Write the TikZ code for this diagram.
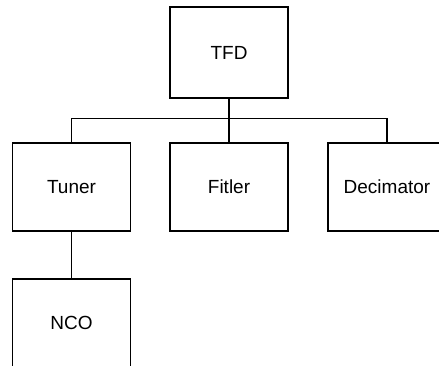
\documentclass[tikz,border=0pt]{standalone}
\usepackage{fontspec}
\setmainfont{Liberation Sans}
\usetikzlibrary{positioning}

\begin{document}
\begin{tikzpicture}[x=1pt,y=-1pt,
    every node/.style={font=\fontsize{19}{22}\selectfont},
    block/.style={draw,line width=1.2pt,minimum width=118pt,minimum height=88pt,inner sep=0pt},
    link/.style={line width=1.2pt}]
    \clip (0,0) rectangle (439,366);
    \node[block,minimum height=91pt] (tfd) at (229,52.5) {TFD};
    \node[block] (tuner) at (71.5,187) {Tuner};
    \node[block] (fitler) at (229,187) {Fitler};
    \node[block] (decim) at (387,187) {Decimator};
    \node[block] (nco) at (71.5,323) {NCO};
    \coordinate (bus) at (229,118.5);
    \draw[link] (tuner.north) -- (tuner.north |- bus) -- (decim.north |- bus) -- (decim.north);
    \draw[link] (tfd.south) -- (fitler.north);
    \draw[link] (tuner.south) -- (nco.north);
\end{tikzpicture}
\end{document}
